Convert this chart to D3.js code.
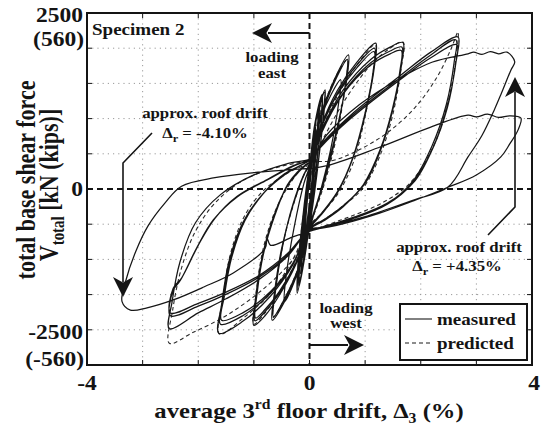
<!DOCTYPE html>
<html><head><meta charset="utf-8">
<script src="https://cdn.jsdelivr.net/npm/d3@7"></script>
<style>
body{margin:0;background:#fff;}
text{font-family:"Liberation Serif","Times New Roman",serif;font-weight:bold;fill:#141414;}
</style></head><body>
<svg id="chart" width="541" height="430"></svg>
<script>
// drift (%) , total base shear (kN)
const xTicks = [-4, -3, -2, -1, 0, 1, 2, 3, 4];
const yGrid = [-2500, -1875, -1250, -625, 625, 1250, 1875, 2500];

const mSmall = [
  [0,0],[0.04,450],[0.08,900],[0.07,550],[0.02,-100],[-0.04,-550],[-0.08,-950],[-0.07,-600],[-0.02,0],[0.02,380],
  [0.05,600],[0.09,950],[0.08,600],[0.02,-150],[-0.04,-600],[-0.09,-1000],[-0.08,-640],[-0.02,-20],[0.02,380],
  [0.06,700],[0.11,1100],[0.1,720],[0.03,-150],[-0.04,-650],[-0.1,-1150],[-0.09,-700],[-0.03,-50],[0.02,390],
  [0.08,950],[0.15,1350],[0.14,1000],[0.08,300],[0.01,-400],[-0.07,-1000],[-0.13,-1400],[-0.12,-1000],[-0.06,-300],[0.01,380],
  [0.08,980],[0.16,1400],[0.15,1040],[0.08,300],[0.01,-420],[-0.07,-1030],[-0.14,-1450],[-0.13,-1040],[-0.06,-320],[0.01,390],
  [0.09,1050],[0.18,1500],[0.17,1120],[0.09,340],[0.01,-430],[-0.07,-1080],[-0.15,-1550],[-0.14,-1120],[-0.07,-350],[0.01,390],
  [0.1,1150],[0.22,1650],[0.21,1250],[0.13,450],[0.02,-450],[-0.08,-1150],[-0.18,-1700],[-0.17,-1250],[-0.09,-400],[0,380],
  [0.1,1180],[0.23,1680],[0.22,1280],[0.13,460],[0.02,-460],[-0.08,-1180],[-0.19,-1740],[-0.18,-1280],[-0.09,-420],[0,390],
  [0.12,1250],[0.28,1760],[0.26,1350],[0.16,500],[0.03,-480],[-0.1,-1250],[-0.22,-1850],[-0.21,-1380],[-0.12,-500],[0,400],
  [0.12,1230],[0.27,1720],[0.25,1320],[0.16,480],[0.03,-490],[-0.1,-1240],[-0.21,-1800],[-0.2,-1350],[-0.12,-500],[0,400]
];
const m07 = [
  [0.2,1250],[0.4,1700],[0.56,1940],[0.52,1500],[0.38,700],[0.18,-100],[0.02,-650],[-0.2,-1450],[-0.45,-2000],[-0.42,-1550],[-0.28,-700],[-0.1,100],[0.02,450],
  [0.2,1300],[0.45,1950],[0.7,2380],[0.67,1950],[0.5,1100],[0.3,300],[0.1,-350],[0,-650],[-0.2,-1400],[-0.45,-2000],[-0.67,-2330],[-0.63,-1850],[-0.5,-1050],[-0.3,-300],[-0.1,250],[0.02,480],
  [0.2,1250],[0.45,1900],[0.68,2300],[0.65,1900],[0.5,1050],[0.3,250],[0.1,-380],[0,-680],[-0.2,-1400],[-0.45,-1950],[-0.65,-2270],[-0.61,-1800],[-0.48,-1000],[-0.3,-280],[-0.1,260],[0.02,480]
];
const m12 = [
  [0.2,1100],[0.5,1750],[0.85,2250],[1.19,2590],[1.17,2200],[1.02,1400],[0.8,600],[0.5,-50],[0.2,-450],[0,-680],[-0.25,-1350],[-0.55,-1900],[-0.8,-2250],[-1.0,-2420],[-0.97,-1950],[-0.85,-1200],[-0.65,-500],[-0.4,50],[-0.15,350],[0.02,500],
  [0.2,1080],[0.5,1700],[0.85,2200],[1.17,2500],[1.15,2120],[1.0,1350],[0.78,560],[0.5,-60],[0.2,-460],[0,-690],[-0.25,-1330],[-0.55,-1860],[-0.8,-2180],[-0.98,-2340],[-0.95,-1880],[-0.83,-1150],[-0.63,-480],[-0.4,60],[-0.15,360],[0.02,500],
  [0.2,1060],[0.5,1680],[0.85,2150],[1.16,2440],[1.14,2060],[0.99,1300],[0.77,520],[0.5,-70],[0.2,-470],[0,-700],[-0.25,-1320],[-0.55,-1830],[-0.8,-2140],[-0.97,-2290],[-0.94,-1840],[-0.82,-1120],[-0.62,-460],[-0.4,70],[-0.15,370],[0.03,510]
];
const m17 = [
  [0.2,1000],[0.6,1750],[1.1,2300],[1.45,2520],[1.68,2600],[1.66,2250],[1.52,1500],[1.3,750],[1.0,100],[0.6,-300],[0.25,-550],[0,-700],[-0.3,-1350],[-0.7,-1900],[-1.2,-2350],[-1.63,-2560],[-1.58,-2050],[-1.45,-1300],[-1.2,-600],[-0.85,-100],[-0.45,250],[-0.1,450],[0.05,550],
  [0.2,980],[0.6,1700],[1.1,2240],[1.45,2450],[1.66,2520],[1.64,2180],[1.5,1450],[1.28,720],[0.98,90],[0.6,-310],[0.25,-560],[0,-710],[-0.3,-1330],[-0.7,-1850],[-1.2,-2250],[-1.6,-2400],[-1.55,-1950],[-1.42,-1250],[-1.18,-580],[-0.84,-90],[-0.45,260],[-0.1,450],[0.05,550],
  [0.2,960],[0.6,1680],[1.1,2200],[1.45,2400],[1.65,2460],[1.63,2130],[1.49,1420],[1.27,700],[0.97,80],[0.6,-320],[0.25,-570],[0,-720],[-0.3,-1320],[-0.7,-1820],[-1.2,-2200],[-1.58,-2330],[-1.53,-1900],[-1.4,-1220],[-1.16,-560],[-0.83,-80],[-0.45,270],[-0.1,450],[0.05,550]
];
const m27 = [
  [0.2,780],[0.74,1310],[1.64,2020],[2.18,2430],[2.67,2700],[2.64,2300],[2.5,1550],[2.25,800],[1.9,150],[1.4,-250],[0.8,-500],[0.2,-680],[0,-720],[-0.4,-1200],[-0.9,-1600],[-1.5,-1950],[-2.0,-2200],[-2.52,-2480],[-2.47,-2000],[-2.33,-1300],[-2.05,-600],[-1.6,-100],[-1.0,250],[-0.4,450],[0.05,550],
  [0.2,760],[0.74,1280],[1.64,1980],[2.18,2380],[2.63,2650],[2.6,2250],[2.46,1500],[2.2,760],[1.85,130],[1.4,-260],[0.8,-510],[0.2,-690],[0,-720],[-0.4,-1180],[-0.9,-1560],[-1.5,-1870],[-2.0,-2080],[-2.5,-2250],[-2.45,-1800],[-2.32,-1620],[-2.02,-1030],[-1.73,-550],[-1.3,-140],[-0.76,160],[-0.3,400],[0.05,550],
  [0.2,740],[0.74,1250],[1.64,1950],[2.18,2330],[2.65,2560],[2.62,2180],[2.48,1450],[2.22,730],[1.86,110],[1.4,-270],[0.8,-520],[0.2,-700],[0,-730],[-0.4,-1150],[-0.9,-1530],[-1.5,-1830],[-2.0,-2030],[-2.5,-2200],[-2.45,-1760],[-2.3,-1580],[-2.0,-1000],[-1.7,-520],[-1.3,-130],[-0.76,170],[-0.3,410],[0.05,550]
];
const m37 = [
  [0.3,950],[0.9,1500],[1.6,1950],[2.2,2250],[2.85,2400],[2.95,2430],[3.1,2390],[3.25,2440],[3.4,2400],[3.55,2430],[3.69,2260],
  [3.62,2110],[3.45,1700],[3.32,1400],[3.1,950],[2.85,570],[2.49,35],[1.87,-195],[0.97,-500],[0.38,-650],[0.07,-730],
  [-0.3,-850],[-0.7,-1000],[-0.76,-880],[-0.8,-1060],[-1.37,-1490],[-1.9,-1740],[-2.45,-1970],[-2.92,-2110],[-3.22,-2150],[-3.37,-2000],
  [-3.3,-1620],[-3.12,-1100],[-2.9,-650],[-2.6,-250],[-2.3,50],[-1.7,200],[-1.0,290],[-0.4,340],[0.25,400],[1.28,750],[2.18,1100],[2.85,1310],
  [3.0,1280],[3.2,1330],[3.4,1270],[3.6,1300],[3.8,1260],
  [3.75,1050],[3.6,800],[3.44,570],[3.0,250],[2.5,35],[1.9,-200],[1.26,-430],[0.6,-620],[0.02,-730]
];

const pSmall = [
  [0,0],[0.1,900],[0.2,1500],[0.18,1000],[0.08,100],[0,-500],[-0.09,-1100],[-0.2,-1650],[-0.18,-1050],[-0.08,-250],[0,400]
];
const p07 = [
  [0.2,1300],[0.45,1950],[0.68,2300],[0.64,1800],[0.48,900],[0.3,200],[0.1,-400],[0,-650],[-0.2,-1400],[-0.45,-1950],[-0.65,-2280],[-0.6,-1700],[-0.46,-900],[-0.28,-250],[-0.1,250],[0.02,450]
];
const p12 = [
  [0.2,1000],[0.5,1650],[0.85,2200],[1.18,2560],[1.14,2050],[0.98,1200],[0.78,450],[0.5,-100],[0.2,-450],[0,-650],[-0.25,-1300],[-0.55,-1850],[-0.8,-2200],[-1.0,-2400],[-0.96,-1850],[-0.83,-1050],[-0.62,-400],[-0.38,50],[-0.15,350],[0.02,450]
];
const p17 = [
  [0.25,900],[0.65,1600],[1.1,2200],[1.45,2500],[1.68,2610],[1.64,2100],[1.48,1250],[1.25,550],[0.95,0],[0.6,-300],[0.25,-550],[0,-680],[-0.3,-1250],[-0.7,-1850],[-1.2,-2300],[-1.62,-2580],[-1.56,-1950],[-1.42,-1150],[-1.18,-500],[-0.85,-50],[-0.45,250],[-0.1,420],[0.05,480]
];
const p27 = [
  [0.4,500],[0.9,700],[1.4,1000],[1.9,1450],[2.3,2000],[2.55,2500],[2.67,2790],[2.63,2300],[2.48,1500],[2.2,700],[1.8,100],[1.3,-250],[0.7,-500],[0.2,-680],[0,-750],[-0.3,-1250],[-0.8,-1750],[-1.5,-2250],[-2.1,-2550],[-2.52,-2740],[-2.46,-2150],[-2.3,-1400],[-2.05,-750],[-1.7,-250],[-1.2,150],[-0.6,380],[0,500]
];

const measured = [].concat(mSmall, m07, m12, m17, m27, m37);
const predicted = [].concat(pSmall, p07, p12, p17, p27);

const svg = d3.select("#chart");
const margin = {top: 13, left: 87, right: 9, bottom: 65};
const W = 541, H = 430;
const sx = 1.12; // the picture's lettering is a bit wide

const x = d3.scaleLinear().domain([-4, 4]).range([margin.left, W - margin.right]);
const y = d3.scaleLinear().domain([-3125, 3125]).range([H - margin.bottom, margin.top]);

function label(px, py, str, size, anchor) {
  return svg.append("text")
    .attr("transform", `translate(${px},${py}) scale(${sx},1)`)
    .attr("font-size", size)
    .attr("text-anchor", anchor || "start")
    .text(str);
}

// grid
svg.append("g").selectAll("line").data(xTicks.filter(d => d != 0 && Math.abs(d) < 4)).join("line")
  .attr("x1", d => x(d)).attr("x2", d => x(d)).attr("y1", y.range()[1]).attr("y2", y.range()[0])
  .attr("stroke", "#9a9a9a").attr("stroke-width", 1).attr("stroke-dasharray", "1.2,4");
svg.append("g").selectAll("line").data(yGrid).join("line")
  .attr("y1", d => y(d)).attr("y2", d => y(d)).attr("x1", x.range()[0]).attr("x2", x.range()[1])
  .attr("stroke", "#9a9a9a").attr("stroke-width", 1).attr("stroke-dasharray", "1.2,4");

// inner ticks
const tk = svg.append("g").attr("stroke", "#141414").attr("stroke-width", 1);
xTicks.forEach(d => {
  tk.append("line").attr("x1", x(d)).attr("x2", x(d)).attr("y1", y(-3125)).attr("y2", y(-3125) - 5);
  tk.append("line").attr("x1", x(d)).attr("x2", x(d)).attr("y1", y(3125)).attr("y2", y(3125) + 5);
});
yGrid.forEach(d => {
  tk.append("line").attr("y1", y(d)).attr("y2", y(d)).attr("x1", x(-4)).attr("x2", x(-4) + 5);
  tk.append("line").attr("y1", y(d)).attr("y2", y(d)).attr("x1", x(4)).attr("x2", x(4) - 5);
});

// data
svg.append("clipPath").attr("id", "clip").append("rect")
  .attr("x", x(-4)).attr("y", y(3125)).attr("width", x(4) - x(-4)).attr("height", y(-3125) - y(3125));
const line = d3.line().x(d => x(d[0])).y(d => y(d[1])).curve(d3.curveCatmullRom.alpha(0.5));
const plot = svg.append("g").attr("clip-path", "url(#clip)");
plot.append("path").datum(predicted).attr("d", line)
  .attr("fill", "none").attr("stroke", "#2a2a2a").attr("stroke-width", 1.1).attr("stroke-dasharray", "4,3");
plot.append("path").datum(measured).attr("d", line)
  .attr("fill", "none").attr("stroke", "#161616").attr("stroke-width", 1.25);

// zero lines
svg.append("line").attr("x1", x(-4)).attr("x2", x(4)).attr("y1", y(0)).attr("y2", y(0))
  .attr("stroke", "#141414").attr("stroke-width", 2).attr("stroke-dasharray", "6,4");
svg.append("line").attr("x1", x(0)).attr("x2", x(0)).attr("y1", y(3125)).attr("y2", y(-3125))
  .attr("stroke", "#141414").attr("stroke-width", 2).attr("stroke-dasharray", "6,4");

// frame
svg.append("rect").attr("x", x(-4)).attr("y", y(3125)).attr("width", x(4) - x(-4)).attr("height", y(-3125) - y(3125))
  .attr("fill", "none").attr("stroke", "#141414").attr("stroke-width", 2);

// arrows
function arrowHead(tx, ty, dx, dy) {
  const L = 20, w = 10, px = -dy, py = dx;
  const pts = [[tx, ty], [tx - dx * L + px * w, ty - dy * L + py * w], [tx - dx * L * 0.72, ty - dy * L * 0.72], [tx - dx * L - px * w, ty - dy * L - py * w]];
  svg.append("path").attr("d", "M" + pts.join("L") + "Z").attr("fill", "#141414");
}
function leader(pts, w) {
  svg.append("path").attr("d", "M" + pts.join("L")).attr("fill", "none").attr("stroke", "#141414").attr("stroke-width", w || 1.6);
}
leader([[x(0), 33], [268, 33]], 2);
arrowHead(252, 33, -1, 0);
leader([[x(0), 345], [348, 345]], 2);
arrowHead(364, 345, 1, 0);
leader([[152, 133], [123, 163], [123, 282]]);
arrowHead(123, 297, 0, 1);
leader([[488, 235], [515, 207], [515, 92]]);
arrowHead(515, 77, 0, -1);

// legend
svg.append("rect").attr("x", 400).attr("y", 304).attr("width", 127).attr("height", 56)
  .attr("fill", "#fff").attr("stroke", "#141414").attr("stroke-width", 2);
svg.append("line").attr("x1", 405).attr("x2", 432).attr("y1", 319).attr("y2", 319).attr("stroke", "#1a1a1a").attr("stroke-width", 1.1);
svg.append("line").attr("x1", 405).attr("x2", 432).attr("y1", 343).attr("y2", 343).attr("stroke", "#1a1a1a").attr("stroke-width", 1.1).attr("stroke-dasharray", "4,3");
label(437, 325, "measured", 17);
label(437, 349, "predicted", 17);

// text annotations
label(92, 35, "Specimen 2", 17);
label(272, 62, "loading", 15, "middle");
label(272, 78, "east", 15, "middle");
label(346, 313, "loading", 15, "middle");
label(346, 328, "west", 15, "middle");
label(205, 118, "approx. roof drift", 15, "middle");
let t = label(205, 138, "Δ", 15, "middle");
t.append("tspan").attr("font-size", 11).attr("dy", 4).text("r");
t.append("tspan").attr("dy", -4).text(" = -4.10%");
label(459, 252, "approx. roof drift", 15, "middle");
t = label(457, 271, "Δ", 15, "middle");
t.append("tspan").attr("font-size", 11).attr("dy", 4).text("r");
t.append("tspan").attr("dy", -4).text(" = +4.35%");

// tick labels
label(83, 22, "2500", 21, "end");
label(84, 46, "(560)", 21, "end");
label(83, 196, "0", 21, "end");
label(83, 339, "-2500", 21, "end");
label(84, 366, "(-560)", 21, "end");
label(x(-4), 390, "-4", 21, "middle");
label(x(0), 390, "0", 21, "middle");
label(x(4) + 2, 390, "4", 21, "middle");

// axis titles
t = label(309, 418, "average 3", 22, "middle");
t.append("tspan").attr("font-size", 14).attr("dy", -9).text("rd");
t.append("tspan").attr("dy", 9).text(" floor drift, Δ");
t.append("tspan").attr("font-size", 14).attr("dy", 5).text("3");
t.append("tspan").attr("dy", -5).text(" (%)");

svg.append("text").attr("transform", `translate(35,180) scale(1.2,1) rotate(-90)`)
  .attr("font-size", 22).attr("text-anchor", "middle").text("total base shear force");
t = svg.append("text").attr("transform", `translate(58,185) scale(1.2,1) rotate(-90)`)
  .attr("font-size", 22).attr("text-anchor", "middle");
t.append("tspan").text("V");
t.append("tspan").attr("font-size", 15).attr("dy", 5).text("total");
t.append("tspan").attr("dy", -5).text(" [kN (kips)]");
</script></body></html>
